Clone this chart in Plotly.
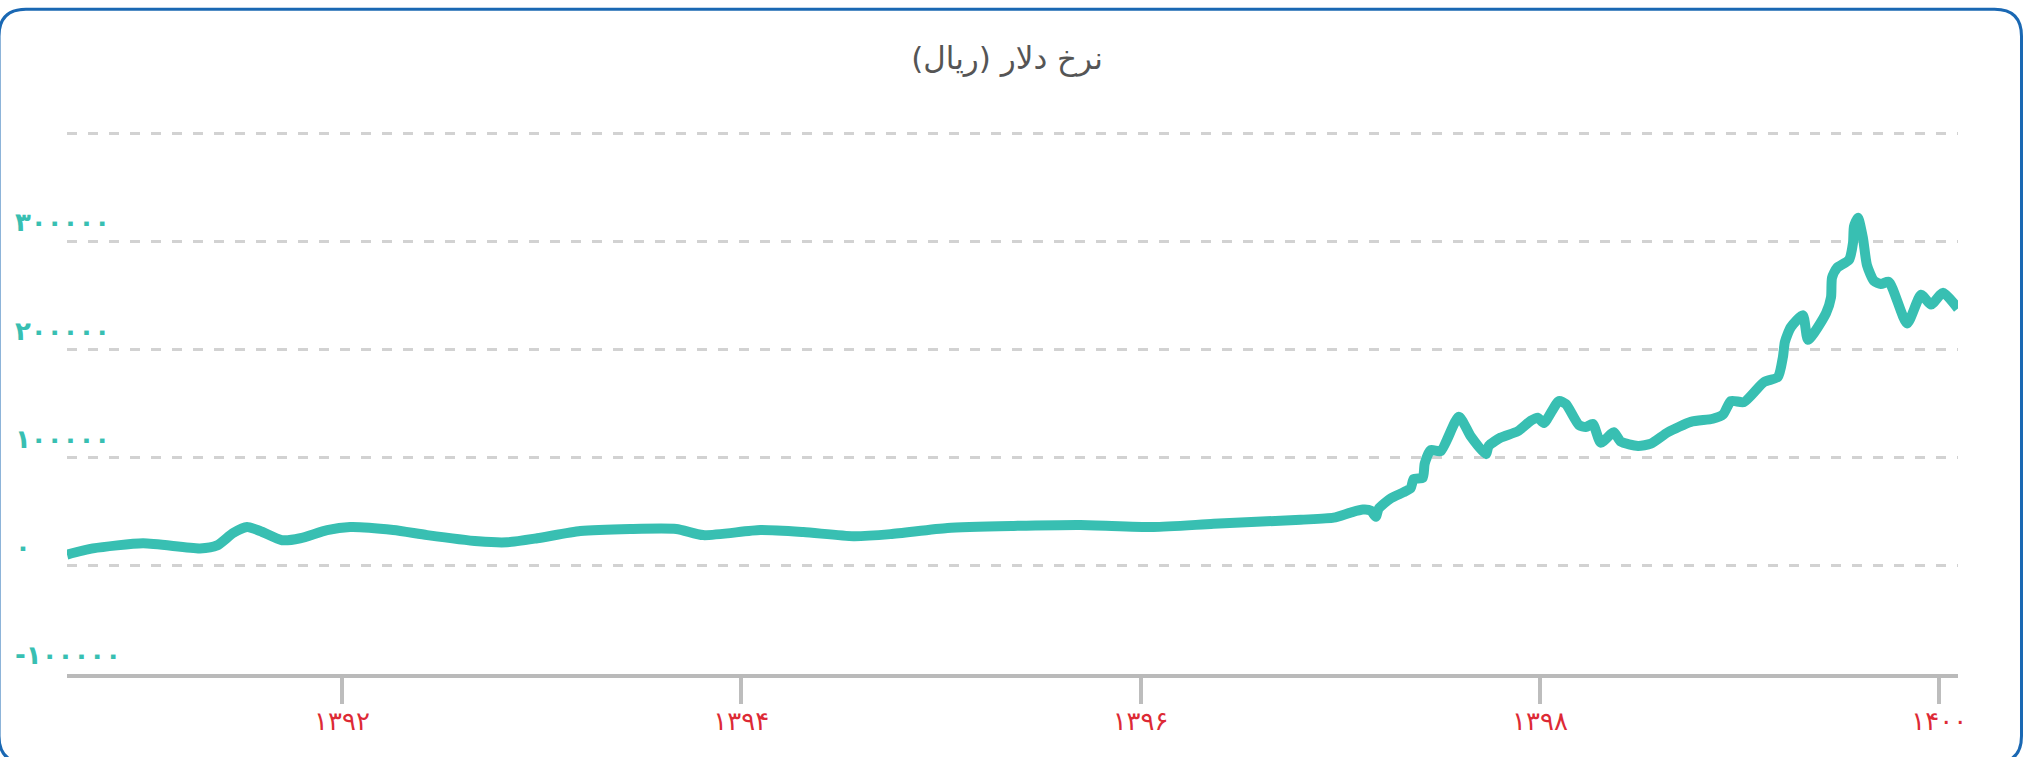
import plotly.graph_objects as go

# ---- data ----
years = [
    1390.623, 1390.753, 1391.004, 1391.289, 1391.375, 1391.455, 1391.525, 1391.590,
    1391.700, 1391.791, 1391.926, 1392.041, 1392.257, 1392.427, 1392.683, 1392.828,
    1392.978, 1393.194, 1393.444, 1393.675, 1393.810, 1394.096, 1394.311, 1394.562,
    1394.747, 1395.033, 1395.364, 1395.699, 1396.065, 1396.366, 1396.802, 1396.967,
    1397.052, 1397.113, 1397.153, 1397.178, 1397.193, 1397.253, 1397.318, 1397.353,
    1397.368, 1397.413, 1397.423, 1397.453, 1397.503, 1397.594, 1397.654, 1397.729,
    1397.744, 1397.804, 1397.889, 1397.954, 1397.989, 1398.020, 1398.095, 1398.130,
    1398.195, 1398.230, 1398.265, 1398.305, 1398.370, 1398.405, 1398.491, 1398.556,
    1398.641, 1398.756, 1398.866, 1398.917, 1398.957, 1399.022, 1399.122, 1399.192,
    1399.217, 1399.227, 1399.257, 1399.317, 1399.343, 1399.433, 1399.458, 1399.463,
    1399.488, 1399.548, 1399.568, 1399.573, 1399.593, 1399.618, 1399.638, 1399.673,
    1399.708, 1399.748, 1399.839, 1399.909, 1399.959, 1400.019, 1400.094,
]
rate = [
    10400, 16100, 20800, 16100, 18900, 30300, 35900, 32200,
    23700, 25500, 33100, 35900, 33100, 28400, 22700, 21800,
    25500, 32200, 34100, 34100, 28400, 33100, 31200, 27400,
    29300, 35000, 36900, 37800, 35900, 38800, 42600, 44500,
    49200, 52000, 51100, 45400, 53000, 62400, 68100, 71900,
    80400, 81300, 94600, 107000, 106100, 137900, 119600, 103200,
    110900, 118600, 124400, 134100, 137000, 132100, 152400, 149500,
    130200, 128300, 131200, 113800, 123500, 114800, 110900, 112900,
    123500, 133100, 136000, 139900, 152400, 151400, 169800, 174600,
    192900, 207000, 220700, 231700, 208900, 233500, 248100, 266400,
    275500, 282800, 298400, 313700, 321800, 303000, 278000, 263400,
    260600, 262500, 224100, 250600, 241500, 252500, 237800,
]

x_tick_vals = [1392, 1394, 1396, 1398, 1400]
x_tick_text = ["۱۳۹۲", "۱۳۹۴", "۱۳۹۶", "۱۳۹۸", "۱۴۰۰"]
y_grid_vals = [-100000, 0, 100000, 200000, 300000, 400000]
y_label_vals = [-100000, 0, 100000, 200000, 300000]
y_label_text = ["-۱۰۰۰۰۰", "۰", "۱۰۰۰۰۰", "۲۰۰۰۰۰", "۳۰۰۰۰۰"]
title_text = "نرخ دلار (ریال)"

TEAL = "#38bfb2"
RED = "#dd2a35"

W, H = 2026, 757
Y_LO, Y_HI = -100000, 402000
PX_PER_UNIT = 108.2 / 100000
ML, MR, MB = 67, 68, 83
PW = W - ML - MR
PH = round((Y_HI - Y_LO) * PX_PER_UNIT, 2)
MT = H - MB - PH

fig = go.Figure()
fig.add_trace(go.Scatter(
    x=years, y=rate, mode="lines",
    line=dict(color=TEAL, width=10, shape="spline", smoothing=0.6),
    hoverinfo="skip", showlegend=False,
))

# y labels (left aligned, above their gridlines)
for v, t in zip(y_label_vals, y_label_text):
    fig.add_annotation(
        x=(13 - ML) / PW, xref="paper", xanchor="left",
        y=v, yref="y", yanchor="middle", yshift=19,
        text="<b>" + t + "</b>", showarrow=False,
        font=dict(family="DejaVu Sans", size=26, color=TEAL),
    )

# rounded border of the card
def px2p(px, py):
    return f"{(px - ML) / PW:.6f},{(H - MB - py) / PH:.6f}"

x0, x1, y0, y1, r = -1, 2021.5, 9, 763, 27
path = (
    f"M {px2p(x0 + r, y0)} L {px2p(x1 - r, y0)} Q {px2p(x1, y0)} {px2p(x1, y0 + r)} "
    f"L {px2p(x1, y1 - r)} Q {px2p(x1, y1)} {px2p(x1 - r, y1)} "
    f"L {px2p(x0 + r, y1)} Q {px2p(x0, y1)} {px2p(x0, y1 - r)} "
    f"L {px2p(x0, y0 + r)} Q {px2p(x0, y0)} {px2p(x0 + r, y0)} Z"
)
fig.add_shape(type="path", path=path, xref="paper", yref="paper",
              line=dict(color="#1a68b3", width=3), layer="above")

fig.update_layout(
    width=W, height=H,
    margin=dict(l=ML, r=MR, t=MT, b=MB, pad=0),
    paper_bgcolor="white", plot_bgcolor="white",
    font=dict(family="DejaVu Sans"),
    title=dict(text=title_text, x=(1007 - ML) / PW, xref="paper", xanchor="center",
               y=1 - 58 / H, yref="container", yanchor="middle",
               font=dict(family="DejaVu Sans", size=31, color="#555555")),
    xaxis=dict(
        range=[1390.623, 1400.094], tickvals=x_tick_vals, ticktext=x_tick_text,
        showgrid=False, zeroline=False,
        showline=True, linecolor="#bababa", linewidth=4,
        ticks="outside", ticklen=26, tickwidth=4, tickcolor="#bdbdbd",
        tickfont=dict(family="DejaVu Sans", size=26, color=RED),
        ticklabelstandoff=-5,
    ),
    yaxis=dict(
        range=[Y_LO, Y_HI], tickvals=y_grid_vals, showticklabels=False,
        showgrid=True, gridcolor="#d2d2d2", gridwidth=2.5, griddash="10px,11px",
        zeroline=False, showline=False, ticks="",
    ),
    hovermode=False,
)

fig.write_html(
    "out.html",
    config={"displayModeBar": False},
    post_script="document.body.style.margin='0px';document.body.style.overflow='hidden';",
)
